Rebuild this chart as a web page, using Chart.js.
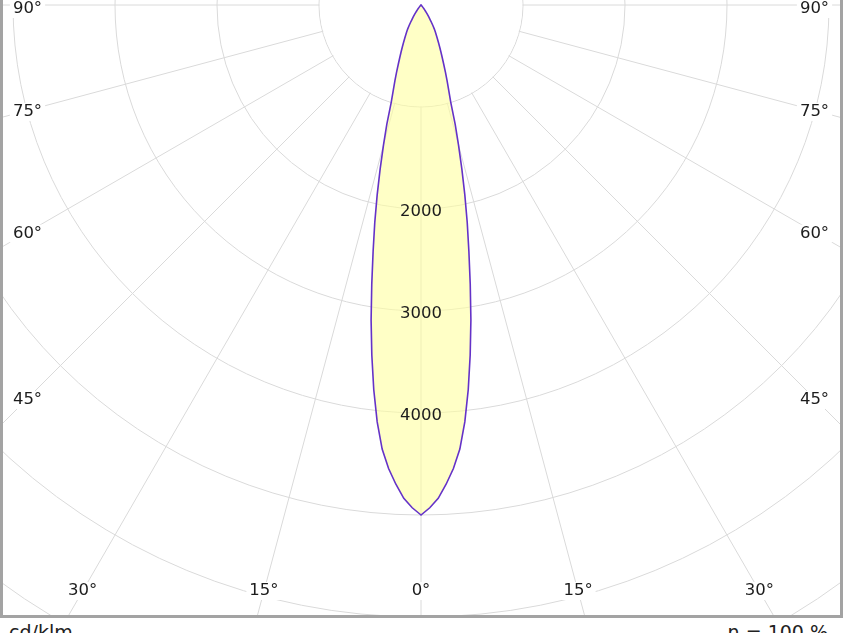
<!DOCTYPE html>
<html lang="ru">
<head>
    <meta charset="UTF-8">
    <title>КСС</title>
    <script src="https://cdn.jsdelivr.net/npm/chart.js@4"></script>
    <style>
        html, body { margin: 0; padding: 0; background: #fff; }
        body { width: 844px; height: 633px; position: relative; overflow: hidden; font-family: "DejaVu Sans", sans-serif; }
        #plot { position: absolute; left: 0; top: -10px; width: 843px; height: 628px; box-sizing: border-box;
                border: 3px solid #a3a3a3; overflow: hidden; background: #fff; }
        #plot canvas { position: absolute; }
        .note { position: absolute; top: 623px; font-size: 19px; line-height: 19px; color: #222; white-space: nowrap; }
    </style>
</head>
<body>
    <div id="plot"><canvas id="kss" width="1632" height="1632"></canvas></div>
    <div class="note" style="left:9px">cd/klm</div>
    <div class="note" style="right:16px">η = 100 %</div>
<script>
    // angle step of the photometric data, degrees
    const STEP = 1;
    // gamma angles (from the downward axis) and intensity, cd/klm; symmetric curve, 0 beyond 45°
    const gammaDeg = [0, 1, 2, 3, 4, 5, 6, 7, 8, 9, 10, 11, 12, 13, 14, 15, 16, 17, 18, 19, 20, 21, 22,
                      23, 24, 25, 26, 27, 28, 29, 30, 31, 32, 33, 34, 35, 36, 37, 38, 39, 40, 41, 42, 43, 44, 45];
    const intensity = [5000, 4930, 4840, 4705, 4555, 4370, 4110, 3800, 3465, 3127, 2780, 2460, 2180, 1910, 1655, 1420,
                       1215, 1000, 880, 785, 700, 620, 555, 500, 450, 405, 365, 330, 300, 270, 235, 200, 168, 140,
                       115, 92, 73, 57, 44, 33, 24, 16, 10, 5, 2, 0];
    // labels on the rings along 0°
    const ringLabels = [2000, 3000, 4000];
    // labelled angles on both sides
    const angleTicks = [0, 15, 30, 45, 60, 75, 90];

    // center of the polar diagram on the page
    const CX = 421, CY = 5;
    // where the angle labels sit, relative to the center
    const LABEL_X = 393.5, LABEL_BOTTOM = 586;

    const angleLabels = [];
    const values = [];
    for (let a = 0; a < 360; a += STEP) {
        angleLabels.push(a + '°');
        const g = a <= 180 ? a : 360 - a;
        const k = gammaDeg.indexOf(g);
        values.push(k >= 0 ? intensity[k] : 0);
    }

    const FONT = '16.5px "DejaVu Sans"';

    const kssPlugin = {
        id: 'kss',
        beforeDatasetsDraw(chart) {
            // blank inner disc (< 1000 cd) like the original diagram
            const sc = chart.scales.r;
            const ctx = chart.ctx;
            ctx.save();
            ctx.fillStyle = '#fff';
            ctx.beginPath();
            ctx.arc(sc.xCenter, sc.yCenter, sc.getDistanceFromCenterForValue(1000) - 0.7, 0, Math.PI * 2);
            ctx.fill();
            ctx.restore();
        },
        afterDatasetsDraw(chart) {
            const sc = chart.scales.r;
            const ctx = chart.ctx;
            ctx.save();
            ctx.font = FONT;
            ctx.fillStyle = '#1c1c1c';
            ctx.textAlign = 'center';
            ctx.textBaseline = 'middle';

            ringLabels.forEach(v => {
                const p = sc.getPointPositionForValue(0, v);
                ctx.fillText(String(v), p.x, p.y + 2.5);
            });

            angleTicks.forEach(a => {
                const idx = a === 0 ? [0] : [a / STEP, (360 - a) / STEP];
                idx.forEach(i => {
                    const p = sc.getPointPosition(i, 100);
                    const dx = (p.x - sc.xCenter) / 100;
                    const dy = (p.y - sc.yCenter) / 100;
                    let t = Infinity, side = false;
                    if (Math.abs(dx) > 1e-6) { t = LABEL_X / Math.abs(dx); side = true; }
                    if (dy > 1e-6 && LABEL_BOTTOM / dy < t) { t = LABEL_BOTTOM / dy; side = false; }
                    let x = dx * t, y = dy * t;
                    if (side) y += 1.5;
                    y = Math.max(y, 4);
                    const txt = a + '°';
                    const w = ctx.measureText(txt).width;
                    ctx.fillStyle = '#fff';
                    ctx.fillRect(sc.xCenter + x - w / 2 - 3, sc.yCenter + y - 9, w + 6, 18);
                    ctx.fillStyle = '#1c1c1c';
                    ctx.fillText(txt, sc.xCenter + x, sc.yCenter + y);
                });
            });
            ctx.restore();
        }
    };

    const canvas = document.getElementById('kss');
    const chart = new Chart(canvas.getContext('2d'), {
        type: 'radar',
        data: {
            labels: angleLabels,
            datasets: [{
                data: values,
                borderColor: '#6432c8',
                borderWidth: 1.6,
                backgroundColor: 'rgba(255,255,160,0.6)',
                fill: true,
                pointRadius: 0,
                tension: 0
            }]
        },
        options: {
            responsive: false,
            animation: false,
            events: [],
            plugins: { legend: { display: false }, tooltip: { enabled: false } },
            scales: {
                r: {
                    min: 0,
                    max: 8000,
                    startAngle: 180,
                    ticks: { stepSize: 1000, display: false },
                    pointLabels: { display: false },
                    grid: { circular: true, color: '#dadada', lineWidth: 1 },
                    angleLines: {
                        display: true,
                        lineWidth: 1,
                        color: (c) => {
                            const a = (c.index * STEP) % 360;
                            return (a % 15 === 0 && (a <= 90 || a >= 270)) ? '#dadada' : 'rgba(0,0,0,0)';
                        }
                    }
                }
            }
        },
        plugins: [kssPlugin]
    });

    // put the diagram center where it is on the original picture
    const sc = chart.scales.r;
    canvas.style.left = (CX - 3 - sc.xCenter) + 'px';
    canvas.style.top = (CY + 7 - sc.yCenter) + 'px';
</script>
</body>
</html>
